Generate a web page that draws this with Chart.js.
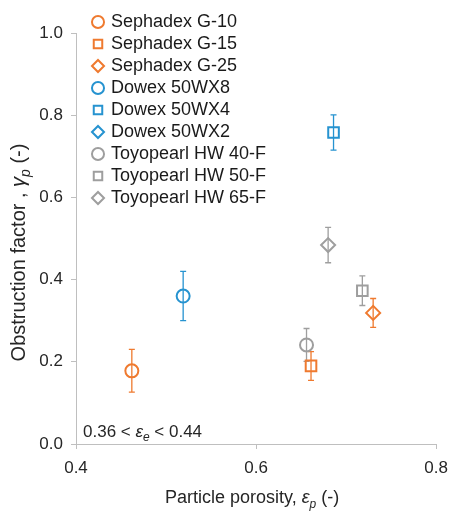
<!DOCTYPE html>
<html>
<head>
<meta charset="utf-8">
<script src="https://cdn.jsdelivr.net/npm/chart.js@4.4.0/dist/chart.umd.min.js"></script>
<style>
  html, body { margin: 0; padding: 0; background: #fff; }
</style>
</head>
<body>
<canvas id="grafico" width="457" height="515"></canvas>
<script>
// dados (um ponto por resina)
const nomes = ['Sephadex G-10', 'Sephadex G-15', 'Sephadex G-25',
               'Dowex 50WX8', 'Dowex 50WX4', 'Dowex 50WX2',
               'Toyopearl HW 40-F', 'Toyopearl HW 50-F', 'Toyopearl HW 65-F'];
const porosidade = [[0.462], [0.661], [0.730], [0.519], [0.686], [], [0.656], [0.718], [0.680]];
const obstrucao  = [[0.178], [0.190], [0.319], [0.360], [0.758], [], [0.241], [0.373], [0.484]];
const erroObstrucao = [[0.052], [0.035], [0.035], [0.060], [0.043], [], [0.040], [0.036], [0.043]];
const xTicks = [0.4, 0.6, 0.8];
const yTicks = [0.0, 0.2, 0.4, 0.6, 0.8, 1.0];

const cores = ['#EF7A2F', '#EF7A2F', '#EF7A2F', '#2693D0', '#2693D0', '#2693D0', '#9E9E9E', '#9E9E9E', '#9E9E9E'];
const estilos = ['circle', 'rect', 'rectRot', 'circle', 'rect', 'rectRot', 'circle', 'rect', 'rectRot'];
const raios = { circle: 6.5, rect: 7.5, rectRot: 7 };

const FONTE = '"Liberation Sans", Arial, sans-serif';
const corTexto = '#262626';
const corEixo = '#BFBFBF';

Chart.defaults.font.family = FONTE;
Chart.defaults.color = corTexto;

const datasets = nomes.map((nome, i) => ({
    label: nome,
    data: porosidade[i].map((x, j) => ({ x: x, y: obstrucao[i][j] })),
    pointStyle: estilos[i],
    pointRadius: raios[estilos[i]],
    borderColor: cores[i],
    backgroundColor: 'rgba(0,0,0,0)',
    borderWidth: 2,
}));

// barras de erro verticais
const barrasErro = {
    id: 'barrasErro',
    beforeDatasetsDraw(chart) {
        const { ctx, scales: { x, y } } = chart;
        ctx.save();
        chart.data.datasets.forEach((ds, i) => {
            ctx.strokeStyle = ds.borderColor;
            ctx.lineWidth = 1.3;
            ds.data.forEach((p, j) => {
                const e = erroObstrucao[i][j];
                const px = x.getPixelForValue(p.x);
                const topo = y.getPixelForValue(p.y + e);
                const base = y.getPixelForValue(p.y - e);
                ctx.beginPath();
                ctx.moveTo(px, topo); ctx.lineTo(px, base);
                ctx.moveTo(px - 3, topo); ctx.lineTo(px + 3, topo);
                ctx.moveTo(px - 3, base); ctx.lineTo(px + 3, base);
                ctx.stroke();
            });
        });
        ctx.restore();
    }
};

// texto com itálico e subscrito
function fonte(p, tam) {
    const t = p.sub ? Math.round(tam * 0.68) : tam;
    return (p.it ? 'italic ' : '') + t + 'px ' + FONTE;
}
function larguraTexto(ctx, partes, tam) {
    let w = 0;
    partes.forEach(p => { ctx.font = fonte(p, tam); w += ctx.measureText(p.t).width; });
    return w;
}
function desenhaTexto(ctx, partes, tam, x, y) {
    let cx = x;
    partes.forEach(p => {
        ctx.font = fonte(p, tam);
        ctx.fillText(p.t, cx, y + (p.sub ? tam * 0.25 : 0));
        cx += ctx.measureText(p.t).width;
    });
}

const tituloX = [{ t: 'Particle porosity, ' }, { t: 'ε', it: true }, { t: 'p', it: true, sub: true }, { t: ' (-)' }];
const tituloY = [{ t: 'Obstruction factor , ' }, { t: 'γ', it: true }, { t: 'p', it: true, sub: true }, { t: ' (-)' }];
const nota = [{ t: '0.36 < ' }, { t: 'ε', it: true }, { t: 'e', it: true, sub: true }, { t: ' < 0.44' }];

const titulos = {
    id: 'titulos',
    afterDraw(chart) {
        const { ctx, chartArea: a } = chart;
        ctx.save();
        ctx.fillStyle = corTexto;
        ctx.textBaseline = 'alphabetic';
        ctx.textAlign = 'left';
        let w = larguraTexto(ctx, tituloX, 18);
        desenhaTexto(ctx, tituloX, 18, (a.left + a.right) / 2 - 4 - w / 2, a.bottom + 59);
        desenhaTexto(ctx, nota, 17, a.left + 7, a.bottom - 7);
        ctx.translate(25, (a.top + a.bottom) / 2 + 14);
        ctx.rotate(-Math.PI / 2);
        w = larguraTexto(ctx, tituloY, 20);
        desenhaTexto(ctx, tituloY, 20, -w / 2, 0);
        ctx.restore();
    }
};

// legenda dentro da área, começando um pouco acima do topo
const moveLegenda = {
    id: 'moveLegenda',
    afterLayout(chart) {
        const lg = chart.legend;
        lg.top = chart.chartArea.top - 24;
        lg.bottom = lg.top + lg.height;
        lg.left += 14; lg.right += 14;
    }
};

const ctx = document.getElementById('grafico').getContext('2d');
const chart = new Chart(ctx, {
    type: 'scatter',
    data: { datasets: datasets },
    plugins: [barrasErro, titulos, moveLegenda],
    options: {
        responsive: false,
        animation: false,
        events: [],
        layout: { padding: { left: 0, top: 33, right: 15, bottom: 0 } },
        plugins: {
            tooltip: { enabled: false },
            legend: {
                position: 'chartArea',
                align: 'start',
                labels: {
                    usePointStyle: true,
                    boxWidth: 8,
                    boxHeight: 8.5,
                    padding: 4,
                    color: '#1a1a1a',
                    font: { size: 18, lineHeight: 1.05 },
                },
            },
        },
        scales: {
            x: {
                type: 'linear',
                min: 0.4, max: 0.8,
                afterBuildTicks: s => { s.ticks = xTicks.map(v => ({ value: v })); },
                afterFit: s => { s.height = 71; },
                ticks: { padding: 9, font: { size: 17 }, color: corTexto, callback: v => v.toFixed(1), maxRotation: 0 },
                grid: { drawOnChartArea: false, tickLength: 5, color: corEixo },
                border: { color: corEixo },
            },
            y: {
                type: 'linear',
                min: 0, max: 1,
                afterBuildTicks: s => { s.ticks = yTicks.map(v => ({ value: v })); },
                afterFit: s => { s.width = 76; },
                ticks: { padding: 8, font: { size: 17 }, color: corTexto, callback: v => v.toFixed(1) },
                grid: { drawOnChartArea: false, tickLength: 5, color: corEixo },
                border: { color: corEixo },
            },
        },
    },
});
</script>
</body>
</html>
